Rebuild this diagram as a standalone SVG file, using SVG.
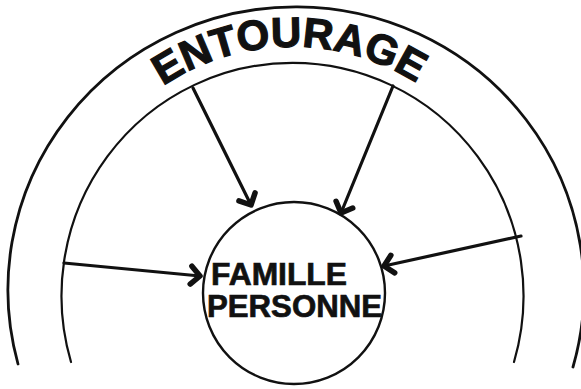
<svg xmlns="http://www.w3.org/2000/svg" width="581" height="389" viewBox="0 0 581 389">
<style>
.arc{fill:none;stroke:#111;stroke-linecap:round}
.lbl{font-family:"Liberation Sans",Arial,sans-serif;font-weight:bold;fill:#111;stroke:#111}
.shaft{fill:none;stroke:#111;stroke-width:3.2;stroke-linecap:round}
</style>
<defs>
<marker id="head" markerUnits="userSpaceOnUse" markerWidth="30" markerHeight="30" viewBox="-15 -15 30 30" refX="0" refY="0" orient="auto" overflow="visible">
<path d="M-9,-9 L0,0 L-9,9" fill="none" stroke="#111" stroke-width="5.5" stroke-linecap="round" stroke-linejoin="round"/>
</marker>
<path id="txtArc" d="M163,86 A232,232 0 0 1 421,86"/>
</defs>
<rect width="581" height="389" fill="#fff"/>
<g id="entourage">
<path class="arc" stroke-width="2.8" d="M18,364 A288,283 0 1 1 573,367"/>
<path class="arc" stroke-width="2.2" d="M71,362 A231,233 0 1 1 514,362"/>
<text class="lbl" font-size="42" stroke-width="1.2"><textPath href="#txtArc" textLength="268" lengthAdjust="spacing">ENTOURAGE</textPath></text>
</g>
<g id="famille">
<circle cx="294" cy="293" r="91" fill="none" stroke="#111" stroke-width="2.4"/>
<text class="lbl" font-size="31" stroke-width="0.7" x="211" y="285" textLength="136" lengthAdjust="spacingAndGlyphs">FAMILLE</text>
<text class="lbl" font-size="31" stroke-width="0.7" x="207" y="317" textLength="175" lengthAdjust="spacingAndGlyphs">PERSONNE</text>
</g>
<g id="connectors">
<line class="shaft" x1="193" y1="88" x2="251" y2="205" marker-end="url(#head)"/>
<line class="shaft" x1="393" y1="86" x2="341" y2="213" marker-end="url(#head)"/>
<line class="shaft" x1="64" y1="263" x2="200" y2="276" marker-end="url(#head)"/>
<line class="shaft" x1="521" y1="236" x2="384" y2="266" marker-end="url(#head)"/>
</g>
</svg>
